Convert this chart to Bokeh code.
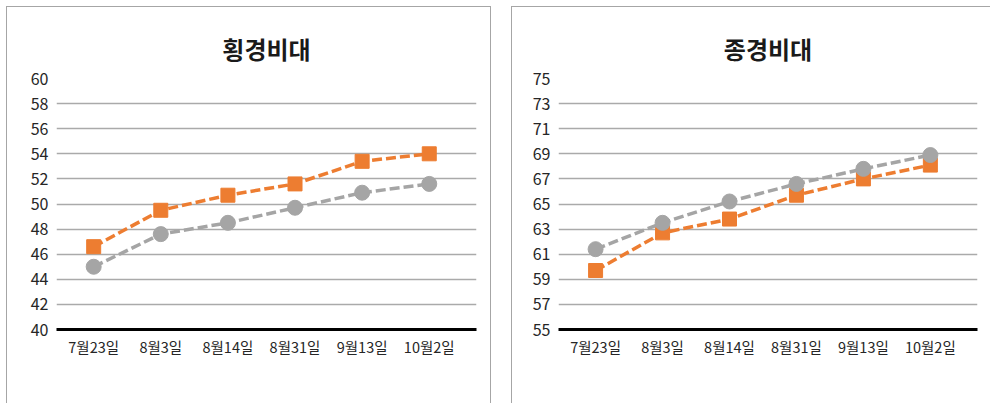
from bokeh.plotting import figure
from bokeh.models import Range1d, FixedTicker, Legend, LegendItem
from bokeh.layouts import row
from bokeh.embed import file_html
from bokeh.resources import INLINE

categories = ["7월23일", "8월3일", "8월14일", "8월31일", "9월13일", "10월2일"]
series_names = ["브루스", "취프턴"]

# 횡경비대
h_bruce = [45.0, 47.6, 48.5, 49.7, 50.9, 51.6]
h_chifton = [46.6, 49.5, 50.7, 51.6, 53.4, 54.0]
h_ticks = [40, 42, 44, 46, 48, 50, 52, 54, 56, 58, 60]

# 종경비대
v_bruce = [61.4, 63.5, 65.2, 66.6, 67.8, 68.9]
v_chifton = [59.7, 62.7, 63.8, 65.7, 67.0, 68.1]
v_ticks = [55, 57, 59, 61, 63, 65, 67, 69, 71, 73, 75]

FONT = "Noto Sans CJK KR"
GRAY = "#a5a5a5"
ORANGE = "#ed7d31"
BORDER = "1px solid #a6a6a6"


def make_panel(title, yticks, bruce, chifton, min_left, min_right, margin, styles):
    xs = list(range(len(categories)))
    p = figure(frame_width=418, frame_height=250,
               x_range=Range1d(-0.554, len(categories) - 1 + 0.704),
               y_range=Range1d(yticks[0], yticks[-1]),
               output_backend="svg", toolbar_location=None,
               min_border_left=min_left, min_border_right=min_right,
               min_border_top=71, min_border_bottom=5,
               title=title)
    p.margin = margin
    p.styles = styles
    p.outline_line_color = None
    p.background_fill_color = "white"
    p.border_fill_color = "white"

    p.title.text_font = FONT
    p.title.text_font_size = "24px"
    p.title.text_font_style = "bold"
    p.title.text_color = "#1a1a1a"
    p.title.align = "center"
    p.title.standoff = 26

    p.xaxis.ticker = FixedTicker(ticks=xs)
    p.xaxis.major_label_overrides = {i: c for i, c in enumerate(categories)}
    p.xaxis.axis_line_color = "black"
    p.xaxis.axis_line_width = 3
    p.xaxis.major_tick_line_color = None
    p.xaxis.minor_tick_line_color = None
    p.xaxis.major_tick_out = 0
    p.xaxis.major_tick_in = 0
    p.xaxis.minor_tick_out = 0
    p.xaxis.axis_label = None
    p.xaxis.axis_label_standoff = 0
    p.xaxis.major_label_text_font = FONT
    p.xaxis.major_label_text_font_size = "14.5px"
    p.xaxis.major_label_text_color = "#262626"
    p.xaxis.major_label_standoff = 6

    p.yaxis.ticker = FixedTicker(ticks=yticks)
    p.yaxis.axis_line_color = None
    p.yaxis.major_tick_line_color = None
    p.yaxis.minor_tick_line_color = None
    p.yaxis.major_tick_out = 0
    p.yaxis.major_tick_in = 0
    p.yaxis.minor_tick_out = 0
    p.yaxis.axis_label = None
    p.yaxis.major_label_text_font = FONT
    p.yaxis.major_label_text_font_size = "16px"
    p.yaxis.major_label_text_color = "#262626"
    p.yaxis.major_label_standoff = 8

    p.xgrid.grid_line_color = None
    p.ygrid.ticker = FixedTicker(ticks=yticks)
    p.ygrid.grid_line_color = "#aaaaaa"
    p.ygrid.grid_line_width = 1.3

    # orange first, gray drawn on top
    lo = p.line(xs, chifton, line_color=ORANGE, line_width=3.5, line_dash="10 4")
    so = p.scatter(xs, chifton, marker="square", size=14, fill_color=ORANGE, line_color=ORANGE)
    lg = p.line(xs, bruce, line_color=GRAY, line_width=3.5, line_dash="10 4")
    sg = p.scatter(xs, bruce, marker="circle", size=15, fill_color=GRAY, line_color=GRAY)

    legend = Legend(items=[LegendItem(label=series_names[0], renderers=[lg, sg]),
                           LegendItem(label=series_names[1], renderers=[lo, so])],
                    orientation="horizontal", location="top_center")
    legend.border_line_color = None
    legend.background_fill_alpha = 0
    legend.label_text_font = FONT
    legend.label_text_font_size = "15px"
    legend.label_text_color = "#262626"
    legend.glyph_width = 30
    legend.glyph_height = 16
    legend.label_height = 16
    legend.label_standoff = 10
    legend.spacing = 14
    legend.margin = 0
    legend.padding = 6
    p.add_layout(legend, "below")
    return p


p1 = make_panel("횡경비대", h_ticks, h_bruce, h_chifton, 49, 16, (6, 0, 0, 6),
                {"border-left": BORDER, "border-top": BORDER, "border-right": BORDER})
p2 = make_panel("종경비대", v_ticks, v_bruce, v_chifton, 46, 14, (6, 0, 0, 0),
                {"border-left": BORDER, "border-top": BORDER})

layout = row(p1, p2, spacing=20)
open("out.html", "w").write(file_html(layout, INLINE))
